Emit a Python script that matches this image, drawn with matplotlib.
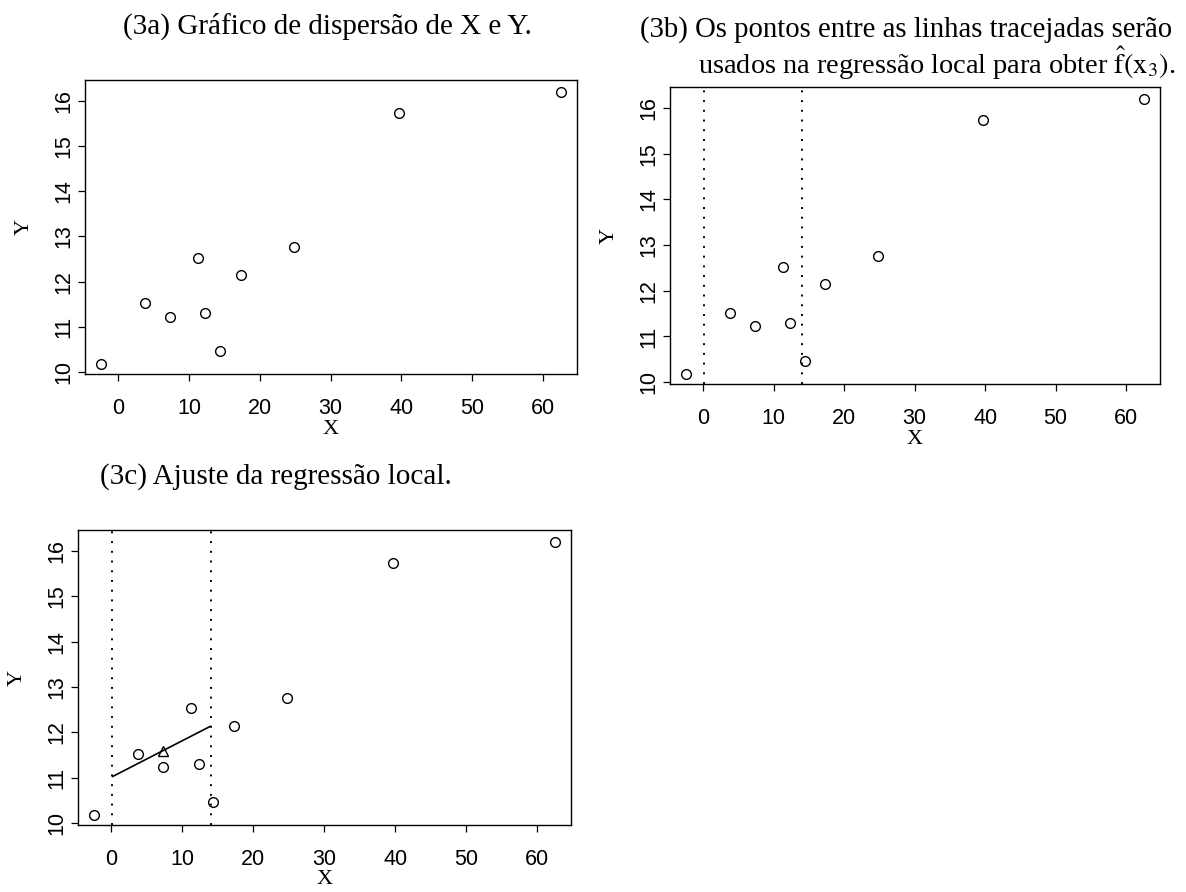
import matplotlib
matplotlib.use("Agg")
import matplotlib.pyplot as plt

# Observations
x_vals = [-2.5, 3.8, 7.3, 11.3, 12.3, 14.4, 17.3, 24.8, 39.7, 62.6]
y_vals = [10.18, 11.52, 11.23, 12.53, 11.30, 10.47, 12.15, 12.76, 15.74, 16.19]

# Local neighbourhood around x3 and the local linear fit
window_edges = [0.1, 14.0]
fit_x = [0.2, 13.9]
fit_y = [11.03, 12.13]
x3_point = [7.3]
x3_fit = [11.6]

x_ticks = [0, 10, 20, 30, 40, 50, 60]
y_ticks = [10, 11, 12, 13, 14, 15, 16]

W, H = 1186, 892
fig = plt.figure(figsize=(W / 100, H / 100), dpi=100)
plt.rcParams["mathtext.fontset"] = "stix"

SERIF = "Liberation Serif"
SANS = "Liberation Sans"


def add_axes_px(left, right, top, bottom):
    ax = fig.add_axes([left / W, 1 - bottom / H, (right - left) / W, (bottom - top) / H])
    ax._px = (right - left, bottom - top)
    return ax


def style(ax):
    wpx, hpx = ax._px
    ax.set_xlim(-4.7, 64.8)
    ax.set_ylim(9.96, 16.46)
    ax.set_xticks(x_ticks)
    ax.set_yticks(y_ticks)
    for s in ax.spines.values():
        s.set_linewidth(1.0)
    ax.tick_params(direction="out", length=5, width=0.9, labelsize=15.5)
    ax.tick_params(axis="x", pad=12.5)
    ax.tick_params(axis="y", pad=2.5)
    for lab in ax.get_xticklabels():
        lab.set_fontfamily(SANS)
    for lab in ax.get_yticklabels():
        lab.set_fontfamily(SANS)
        lab.set_rotation(90)
        lab.set_va("center")
    ax.set_xlabel("X", fontfamily=SERIF, fontsize=16, va="center")
    ax.set_ylabel("Y", fontfamily=SERIF, fontsize=16, va="center", ha="center")
    ax.xaxis.set_label_coords(0.5, -55 / hpx)
    ax.yaxis.set_label_coords(-61 / wpx, 0.5)


def scatter(ax):
    ax.plot(x_vals, y_vals, linestyle="none", marker="o", markersize=7,
            markerfacecolor="none", markeredgecolor="black", markeredgewidth=1.0)


def window(ax):
    for v in window_edges:
        ax.axvline(v, color="black", linewidth=1.4, linestyle=(0, (1, 4)))


# (3a)
ax_a = add_axes_px(85, 577, 80, 374)
scatter(ax_a)
style(ax_a)

# (3b)
ax_b = add_axes_px(670, 1160, 87, 384)
scatter(ax_b)
window(ax_b)
style(ax_b)

# (3c)
ax_c = add_axes_px(78, 571, 530, 825)
scatter(ax_c)
window(ax_c)
ax_c.plot(fit_x, fit_y, color="black", linewidth=1.2)
ax_c.plot(x3_point, x3_fit, linestyle="none", marker="^", markersize=7.5,
          markerfacecolor="none", markeredgecolor="black", markeredgewidth=1.0)
style(ax_c)

# Titles
fig.text(327 / W, 1 - 34 / H, "(3a) Gráfico de dispersão de X e Y.",
         ha="center", va="baseline", fontfamily=SERIF, fontsize=21)
fig.text(640 / W, 1 - 37 / H, "(3b) Os pontos entre as linhas tracejadas serão",
         ha="left", va="baseline", fontfamily=SERIF, fontsize=20.7)
fig.text(698 / W, 1 - 74 / H,
         r"usados na regressão local para obter $\hat{\mathrm{f}}(\mathrm{x}_3)$.",
         ha="left", va="baseline", fontfamily=SERIF, fontsize=20.4)
fig.text(276 / W, 1 - 484 / H, "(3c) Ajuste da regressão local.",
         ha="center", va="baseline", fontfamily=SERIF, fontsize=21)

fig.savefig("out.png", dpi=100)
